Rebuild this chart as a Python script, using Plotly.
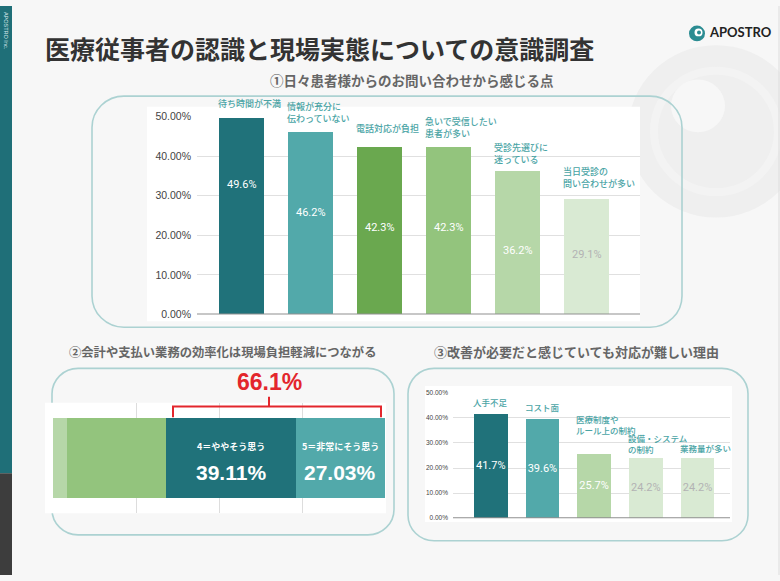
import plotly.graph_objects as go

W, H = 780, 581


def px(x):
    return x / W


def py(y):
    return 1 - y / H


# ---------------- data ----------------
title_text = "医療従事者の認識と現場実態についての意識調査"

q1_title = "①日々患者様からのお問い合わせから感じる点"
q1_labels = ["待ち時間が不満", "情報が充分に<br>伝わっていない", "電話対応が負担",
             "急いで受信したい<br>患者が多い", "受診先選びに<br>迷っている", "当日受診の<br>問い合わせが多い"]
q1_values = [49.6, 46.2, 42.3, 42.3, 36.2, 29.1]
q1_colors = ["#20727a", "#52a9aa", "#6aa84f", "#93c47d", "#b6d7a8", "#d9ead3"]
q1_text_colors = ["#ffffff", "#ffffff", "#ffffff", "#ffffff", "#ffffff", "#b3b3b3"]

q2_title = "②会計や支払い業務の効率化は現場負担軽減につながる"
q2_labels = ["1・2＝そう思わない", "3＝どちらともいえない", "4＝ややそう思う", "5＝非常にそう思う"]
q2_values = [4.2, 29.66, 39.11, 27.03]
q2_colors = ["#b6d7a8", "#93c47d", "#20727a", "#52a9aa"]
q2_show = [False, False, True, True]

q3_title = "③改善が必要だと感じていても対応が難しい理由"
q3_labels = ["人手不足", "コスト面", "医療制度や<br>ルール上の制約", "設備・システム<br>の制約", "業務量が多い"]
q3_values = [41.7, 39.6, 25.7, 24.2, 24.2]
q3_colors = ["#20727a", "#52a9aa", "#b6d7a8", "#d9ead3", "#d9ead3"]
q3_text_colors = ["#ffffff", "#ffffff", "#ffffff", "#b3b3b3", "#b3b3b3"]

pct_ticks = [0, 10, 20, 30, 40, 50]
pct_ticktext = ["0.00%", "10.00%", "20.00%", "30.00%", "40.00%", "50.00%"]
q2_grid = [25, 50, 75, 100]

# ---------------- style ----------------
JP = "Noto Sans CJK JP"
NUM = "Roboto"
BG = "#f7f7f7"
LABEL_TEAL = "#4aa4a5"
BORDER = "#acd2d2"
RED = "#e3262c"
BAR_W = 0.65
q1_cat_shift = [6, 5, 10, 5, 3, 7]          # px gap between category label and bar top
q1_val_frac = [0.66, 0.56, 0.52, 0.52, 0.45, 0.52]  # vertical placement of value label in bar
q3_cat_shift = [4, 4, 16, 1, 2]


def rrect_path(x0, y0, x1, y1, r):
    k = 0.5523 * r
    pts = [
        ("M", [(x0 + r, y0)]),
        ("L", [(x1 - r, y0)]),
        ("C", [(x1 - r + k, y0), (x1, y0 + r - k), (x1, y0 + r)]),
        ("L", [(x1, y1 - r)]),
        ("C", [(x1, y1 - r + k), (x1 - r + k, y1), (x1 - r, y1)]),
        ("L", [(x0 + r, y1)]),
        ("C", [(x0 + r - k, y1), (x0, y1 - r + k), (x0, y1 - r)]),
        ("L", [(x0, y0 + r)]),
        ("C", [(x0, y0 + r - k), (x0 + r - k, y0), (x0 + r, y0)]),
    ]
    s = ""
    for cmd, plist in pts:
        s += cmd + " " + " ".join(f"{px(a):.5f},{py(b):.5f}" for a, b in plist) + " "
    return s + "Z"


def circle(cx, cy, r, fill, line=None, lw=0):
    return dict(type="circle", xref="paper", yref="paper",
                x0=px(cx - r), x1=px(cx + r), y0=py(cy + r), y1=py(cy - r),
                fillcolor=fill, line=dict(color=line or fill, width=lw), layer="below")


def rect(x0, y0, x1, y1, fill):
    return dict(type="rect", xref="paper", yref="paper",
                x0=px(x0), x1=px(x1), y0=py(y1), y1=py(y0),
                fillcolor=fill, line=dict(width=0), layer="below")


fig = go.Figure()

# ---------- chart 1 ----------
fig.add_trace(go.Bar(
    x=q1_labels, y=q1_values, width=BAR_W,
    marker=dict(color=q1_colors, line=dict(width=0)),
    xaxis="x", yaxis="y", hoverinfo="skip", showlegend=False))

# ---------- chart 2 ----------
for lab, val, col in zip(q2_labels, q2_values, q2_colors):
    fig.add_trace(go.Bar(
        y=["Q2"], x=[val], orientation="h", width=0.726, name=lab,
        marker=dict(color=col, line=dict(width=0)),
        xaxis="x2", yaxis="y2", hoverinfo="skip", showlegend=False))

# ---------- chart 3 ----------
fig.add_trace(go.Bar(
    x=q3_labels, y=q3_values, width=BAR_W,
    marker=dict(color=q3_colors, line=dict(width=0)),
    text=[f"{v:.1f}%" for v in q3_values], textposition="inside", textangle=0,
    insidetextanchor="middle", constraintext="none",
    textfont=dict(color=q3_text_colors, size=11, family=NUM),
    xaxis="x3", yaxis="y3", hoverinfo="skip", showlegend=False))

annotations = []
shapes = []

# background decoration
shapes.append(circle(716, 128, 88, "#efefef"))
shapes.append(circle(716, 128, 62, "#efefef", "#f3f3f3", 8))
shapes.append(circle(698, 102, 27, BG))
shapes.append(dict(type="line", xref="paper", yref="paper", x0=px(779), x1=px(779),
                   y0=0, y1=1, line=dict(color="#dddddd", width=1), layer="below"))

# left strip
shapes.append(rect(0, 0, 12, 477, "#1f6f78"))
shapes.append(rect(0, 477, 12, 581, "#3d3d3d"))

# panels
for (x0, y0, x1, y1, r) in [(92, 92, 682, 328, 32), (52, 370, 394, 540, 26), (408, 370, 748, 546, 26)]:
    shapes.append(dict(type="path", xref="paper", yref="paper", path=rrect_path(x0, y0, x1, y1, r),
                       line=dict(color=BORDER, width=1.6), fillcolor="rgba(0,0,0,0)", layer="below"))

# white chart backgrounds
shapes.append(rect(147, 103, 640, 322, "#ffffff"))
shapes.append(rect(45, 405, 386, 518, "#ffffff"))
shapes.append(rect(425, 388, 732, 527, "#ffffff"))

# baselines
for xr, yr in [("x", "y"), ("x3", "y3")]:
    shapes.append(dict(type="line", xref=f"{xr} domain", yref=yr, x0=0, x1=1, y0=0, y1=0,
                       line=dict(color="#8f8f8f", width=2), layer="above"))

# logo
shapes.append(circle(697, 28, 8, "#2b8c92"))
shapes.append(circle(698.5, 27, 4, "#ffffff"))
shapes.append(circle(699, 27, 2, "#2b8c92"))
annotations.append(dict(xref="paper", yref="paper", x=px(707), y=py(27), xanchor="left", yanchor="middle",
                        text="<b>APOSTRO</b>", showarrow=False,
                        font=dict(family="Lato", size=13, color="#222222")))
annotations.append(dict(xref="paper", yref="paper", x=px(6), y=py(4), xanchor="center", yanchor="top",
                        text="APOSTRO Inc.", textangle=90, showarrow=False,
                        font=dict(family="Liberation Sans", size=5.5, color="#d8e8ea")))

# title & subtitles
annotations.append(dict(xref="paper", yref="paper", x=px(43), y=py(43), xanchor="left", yanchor="middle",
                        text=f"<b>{title_text}</b>", showarrow=False,
                        font=dict(family=JP, size=25, color="#333333")))
for txt, cx, cy, sz in [(q1_title, 412, 76, 13.5), (q2_title, 222, 353, 12.3), (q3_title, 576, 353, 13)]:
    annotations.append(dict(xref="paper", yref="paper", x=px(cx), y=py(cy), xanchor="center",
                            yanchor="middle", text=f"<b>{txt}</b>", showarrow=False,
                            font=dict(family=JP, size=sz, color="#666666")))

# category + value labels chart1
for i, (lab, val) in enumerate(zip(q1_labels, q1_values)):
    annotations.append(dict(xref="x", yref="y", x=i - BAR_W / 2, y=val, xanchor="left", yanchor="bottom",
                            xshift=-3, yshift=q1_cat_shift[i], align="left", text=lab, showarrow=False,
                            font=dict(family=JP, size=9, color=LABEL_TEAL, weight=500)))
    annotations.append(dict(xref="x", yref="y", x=i, y=val * q1_val_frac[i], xanchor="center",
                            yanchor="middle", text=f"{val:.1f}%", showarrow=False,
                            font=dict(family=NUM, size=11, color=q1_text_colors[i])))
# category labels chart3
for i, (lab, val) in enumerate(zip(q3_labels, q3_values)):
    annotations.append(dict(xref="x3", yref="y3", x=i - BAR_W / 2, y=val, xanchor="left", yanchor="bottom",
                            xshift=-3, yshift=q3_cat_shift[i], align="left", text=lab, showarrow=False,
                            font=dict(family=JP, size=8.5, color=LABEL_TEAL, weight=500)))

# chart2 segment labels
cum = 0
for lab, val, show in zip(q2_labels, q2_values, q2_show):
    mid = cum + val / 2
    cum += val
    if show:
        annotations.append(dict(xref="x2", yref="y2", x=mid, y=0, xanchor="center", yanchor="middle",
                                yshift=11, text=f"<b>{lab}</b>", showarrow=False,
                                font=dict(family=JP, size=9, color="#ffffff")))
        annotations.append(dict(xref="x2", yref="y2", x=mid, y=0, xanchor="center", yanchor="middle",
                                yshift=-15, text=f"<b>{val:.2f}%</b>", showarrow=False,
                                font=dict(family="Liberation Sans", size=21, color="#ffffff")))

# red bracket + total
agree_total = sum(v for v, s in zip(q2_values, q2_show) if s)
bx0, bx1, bxc, by, bend, btop = 173, 381, 269, 409, 420, 399
shapes.append(dict(type="path", xref="paper", yref="paper",
                   path=f"M {px(bx0)},{py(bend)} L {px(bx0)},{py(by)} L {px(bx1)},{py(by)} L {px(bx1)},{py(bend)}",
                   line=dict(color=RED, width=2), layer="above"))
shapes.append(dict(type="line", xref="paper", yref="paper", x0=px(bxc), x1=px(bxc), y0=py(by), y1=py(btop),
                   line=dict(color=RED, width=2), layer="above"))
annotations.append(dict(xref="paper", yref="paper", x=px(bxc), y=py(384), xanchor="center", yanchor="middle",
                        text=f"<b>{agree_total:.1f}%</b>", showarrow=False,
                        font=dict(family="Liberation Sans", size=23, color=RED)))

fig.update_layout(
    width=W, height=H, autosize=False,
    margin=dict(l=0, r=0, t=0, b=0),
    paper_bgcolor=BG, plot_bgcolor="rgba(0,0,0,0)",
    barmode="stack", showlegend=False,
    xaxis=dict(domain=[px(197), px(640)], range=[-0.65, 5.77], anchor="y",
               showticklabels=False, showgrid=False, zeroline=False, showline=False),
    yaxis=dict(domain=[py(315), py(113)], range=[0, 50], anchor="x",
               tickmode="array", tickvals=pct_ticks, ticktext=pct_ticktext,
               gridcolor="#e0e0e0", gridwidth=1, zeroline=False, showline=False, ticks="",
               ticklabelstandoff=5,
               tickfont=dict(family="Liberation Sans", size=10.5, color="#444444")),
    xaxis2=dict(domain=[px(45), px(386)], range=[-2.4, 100.2], anchor="y2",
                tickvals=q2_grid, showticklabels=False, gridcolor="#dddddd", gridwidth=1,
                zeroline=False, showline=False, ticks=""),
    yaxis2=dict(domain=[py(518), py(405)], range=[-0.5, 0.5], anchor="x2", visible=False),
    xaxis3=dict(domain=[px(453), px(730)], range=[-0.73, 4.63], anchor="y3",
                showticklabels=False, showgrid=False, zeroline=False, showline=False),
    yaxis3=dict(domain=[py(523), py(395)], range=[0, 50], anchor="x3",
                tickmode="array", tickvals=pct_ticks, ticktext=pct_ticktext,
                gridcolor="#e0e0e0", gridwidth=1, zeroline=False, showline=False, ticks="",
                ticklabelstandoff=4,
                tickfont=dict(family="Liberation Sans", size=6.5, color="#444444")),
    shapes=shapes,
    annotations=annotations,
)

fig.write_html("out.html")
